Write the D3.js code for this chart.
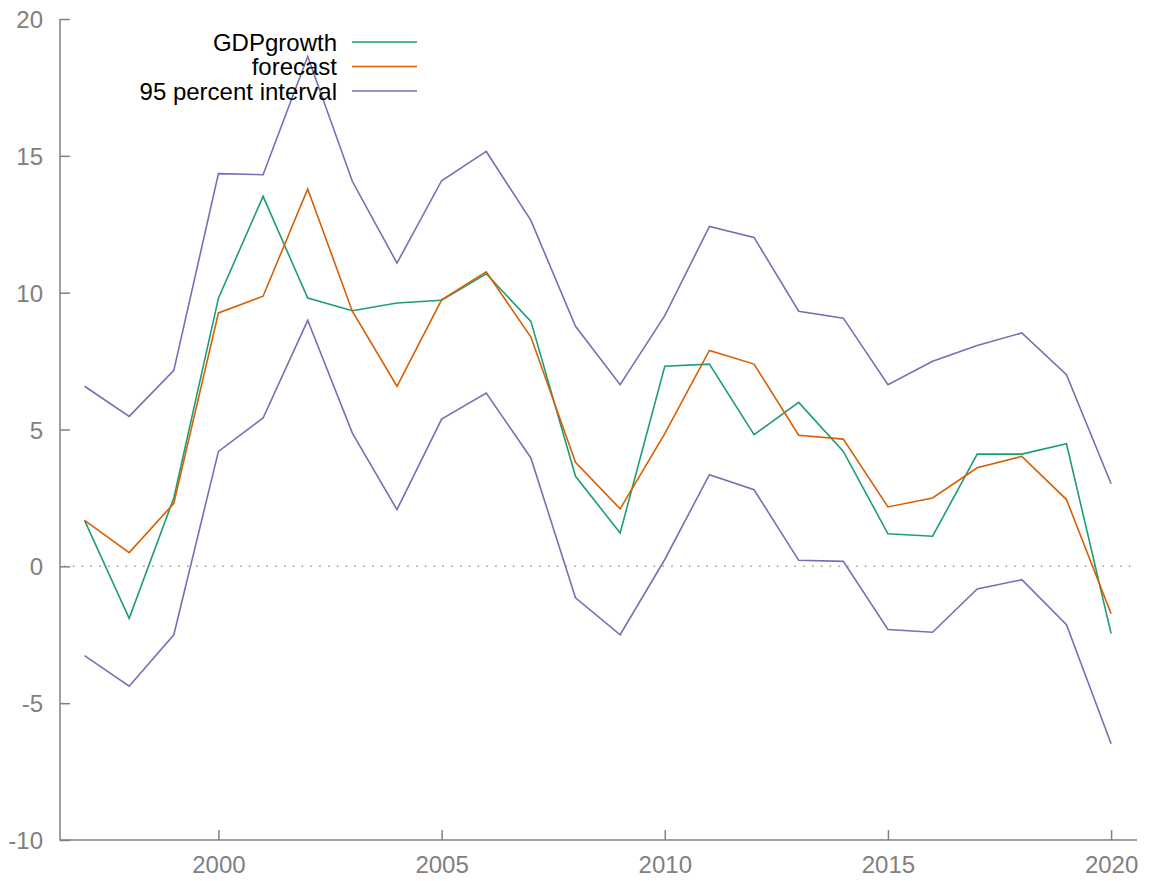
<!DOCTYPE html>
<html>
<head>
<meta charset="utf-8">
<script src="https://cdn.jsdelivr.net/npm/d3@7"></script>
<style>
  body { margin: 0; background: #fff; }
  svg { display: block; font-family: "Liberation Sans", Arial, sans-serif; }
</style>
</head>
<body>
<div id="chart"></div>
<script>
// Data
var years = d3.range(1997, 2021);
var gdpGrowth = [1.68, -1.9, 2.5, 9.8, 13.52, 9.8, 9.34, 9.62, 9.72, 10.69, 8.95, 3.29,
  1.22, 7.31, 7.39, 4.81, 5.99, 4.2, 1.19, 1.1, 4.1, 4.1, 4.48, -2.46];
var forecast = [1.68, 0.5, 2.3, 9.26, 9.87, 13.79, 9.32, 6.58, 9.74, 10.76, 8.38, 3.8,
  2.1, 4.85, 7.89, 7.39, 4.79, 4.65, 2.17, 2.5, 3.6, 4.02, 2.44, -1.73];
var upper95 = [6.58, 5.48, 7.16, 14.35, 14.31, 18.63, 14.07, 11.08, 14.09, 15.16, 12.64, 8.77,
  6.64, 9.16, 12.42, 12.02, 9.32, 9.07, 6.64, 7.49, 8.07, 8.53, 7.0, 3.02];
var lower95 = [-3.26, -4.38, -2.5, 4.2, 5.42, 8.99, 4.87, 2.07, 5.38, 6.33, 3.96, -1.15,
  -2.5, 0.25, 3.35, 2.8, 0.22, 0.18, -2.31, -2.41, -0.83, -0.49, -2.13, -6.48];
var xTicks = [2000, 2005, 2010, 2015, 2020];
var yTicks = [-10, -5, 0, 5, 10, 15, 20];
var legendLabels = ["GDPgrowth", "forecast", "95 percent interval"];

var width = 1164, height = 881;
var plotLeft = 60, plotRight = 1137, plotTop = 19, plotBottom = 840;
var axisColor = "#808080";
var colors = ["#1b9e77", "#d95f02", "#7570b3"];

var x = d3.scaleLinear().domain([1996.45, 2020.58]).range([plotLeft, plotRight]);
var y = d3.scaleLinear().domain([-10, 20]).range([plotBottom, plotTop]);

var svg = d3.select("#chart").append("svg")
  .attr("width", width)
  .attr("height", height);

// zero line
svg.append("line")
  .attr("x1", plotLeft + 4).attr("x2", plotRight - 6)
  .attr("y1", y(0)).attr("y2", y(0))
  .attr("stroke", "#999")
  .attr("stroke-width", 1.5)
  .attr("stroke-dasharray", "1.5,7.3");

// axes (ticks point inward, like gnuplot); plain hyphen for negatives
var plain = function(d) { return String(d); };
var yAxis = svg.append("g")
  .attr("transform", "translate(" + plotLeft + ",0)")
  .call(d3.axisRight(y).tickValues(yTicks).tickSize(10).tickFormat(plain));
var xAxis = svg.append("g")
  .attr("transform", "translate(0," + plotBottom + ")")
  .call(d3.axisTop(x).tickValues(xTicks).tickSize(10).tickFormat(plain));

[yAxis, xAxis].forEach(function(g) {
  g.select(".domain").remove();
  g.selectAll(".tick line").attr("stroke", axisColor).attr("stroke-width", 1.5);
  g.selectAll(".tick text").attr("fill", axisColor).style("font-size", "24px")
    .style("font-family", "Liberation Sans, Arial, sans-serif");
});
yAxis.selectAll(".tick text").attr("x", -17).attr("dy", "0.36em").attr("text-anchor", "end");
xAxis.selectAll(".tick text").attr("y", 33).attr("dy", 0).attr("text-anchor", "middle");

// border: left + bottom
svg.append("path")
  .attr("d", "M" + plotLeft + "," + plotTop + "V" + plotBottom + "H" + plotRight)
  .attr("fill", "none")
  .attr("stroke", axisColor)
  .attr("stroke-width", 1.5);

var line = d3.line()
  .x(function(d, i) { return x(years[i]); })
  .y(function(d) { return y(d); });

var series = [
  { values: upper95, color: colors[2] },
  { values: lower95, color: colors[2] },
  { values: gdpGrowth, color: colors[0] },
  { values: forecast, color: colors[1] }
];

svg.selectAll(".series")
  .data(series)
  .enter()
  .append("path")
  .attr("class", "series")
  .attr("d", function(d) { return line(d.values); })
  .attr("fill", "none")
  .attr("stroke", function(d) { return d.color; })
  .attr("stroke-width", 1.6)
  .attr("stroke-linejoin", "miter");

// legend
var legend = svg.selectAll(".legend")
  .data(legendLabels)
  .enter()
  .append("g")
  .attr("class", "legend")
  .attr("transform", function(d, i) { return "translate(0," + (42 + i * 24.5) + ")"; });

legend.append("text")
  .attr("x", 337)
  .attr("dy", "0.36em")
  .attr("text-anchor", "end")
  .style("font-size", "24px")
  .attr("fill", "#000")
  .text(function(d) { return d; });

legend.append("line")
  .attr("x1", 352).attr("x2", 417)
  .attr("stroke", function(d, i) { return colors[i]; })
  .attr("stroke-width", 1.6);
</script>
</body>
</html>
